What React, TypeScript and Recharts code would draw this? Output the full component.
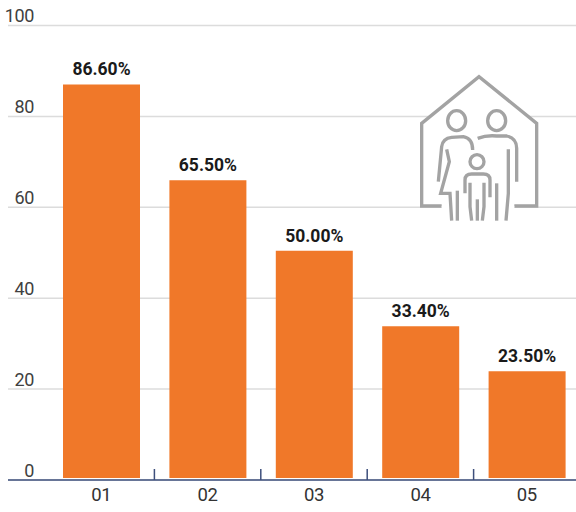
import { BarChart, Bar, XAxis, YAxis, CartesianGrid, LabelList, Rectangle } from "recharts";

const categories = ["01", "02", "03", "04", "05"];
const shares = [86.6, 65.5, 50.0, 33.4, 23.5];
const yTicks = [0, 20, 40, 60, 80, 100];

const data = categories.map((c, i) => ({ category: c, share: shares[i] }));

const FONT = "Roboto, sans-serif";
const BAR_LIFT = 2;

const BarShape = (props: any) => (
    <Rectangle x={props.x} y={props.y - BAR_LIFT} width={props.width} height={props.height} fill="#f07829" />
);

const ValueLabel = ({ x, y, width, value }: any) => (
    <text
        x={x + width / 2}
        y={y - 11}
        textAnchor="middle"
        fontFamily={FONT}
        fontSize={17.5}
        fontWeight={700}
        fill="#1a1a1a"
    >
        {Number(value).toFixed(2)}%
    </text>
);

const YTick = ({ y, payload }: any) => (
    <text
        x={34}
        y={y - 3.5}
        textAnchor="end"
        fontFamily={FONT}
        fontSize={18}
        letterSpacing={-0.4}
        fill="#404040"
    >
        {payload.value}
    </text>
);

const XTick = ({ x, y, payload, index }: any) => {
    const half = payload.offset ?? 53.1;
    return (
        <g>
            {index < categories.length - 1 && (
                <line x1={x + half} x2={x + half} y1={y - 11} y2={y} stroke="#3d4f7c" strokeWidth={1.5} />
            )}
            <text
                x={x}
                y={y + 21}
                textAnchor="middle"
                fontFamily={FONT}
                fontSize={18.5}
                letterSpacing={-0.4}
                fill="#333333"
            >
                {payload.value}
            </text>
        </g>
    );
};

const FamilyIcon = () => (
    <svg
        width={160}
        height={170}
        viewBox="0 0 480 510"
        style={{ position: "absolute", left: 400, top: 60 }}
        fill="none"
        stroke="#a3a3a3"
        strokeWidth={10}
    >
        <path d="M65 190L237 50L410 190V438H65Z" fill="#ffffff" stroke="none" />
        <path d="M125 438H65V190L237 50L410 190V438H343" />
        <path d="M125 438H343V490H125Z" fill="#ffffff" stroke="none" />
        <ellipse cx={170} cy={182} rx={27} ry={30} />
        <ellipse cx={290} cy={182} rx={27} ry={30} />
        <path d="M115 365L125 260Q128 235 155 232L190 230Q218 235 218 270" />
        <path d="M140 268L148 305L122 400H150L155 482" />
        <path d="M172 392V482" />
        <path d="M233 235Q260 225 290 228H320Q350 235 350 265V365" />
        <path d="M325 268V400L318 482" />
        <circle cx={231} cy={305} r={21} />
        <path d="M195 400V360Q195 342 215 342H250Q270 342 270 360V412" />
        <path d="M210 368V440L215 482" />
        <path d="M232 418V482" />
        <path d="M252 368V440L247 482" />
        <path d="M290 370V482" />
    </svg>
);

export default function App() {
    return (
        <div
            style={{
                position: "absolute",
                left: 0,
                top: 0,
                width: 576,
                height: 512,
                overflow: "hidden",
                background: "#ffffff",
            }}
        >
            <BarChart
                width={580}
                height={512}
                data={data}
                margin={{ top: 25.5, right: 0, bottom: 0, left: 7 }}
            >
                <CartesianGrid vertical={false} stroke="#dcdcdc" strokeWidth={1.5} />
                <XAxis
                    dataKey="category"
                    height={32}
                    padding={{ left: 40, right: 0 }}
                    interval={0}
                    tickSize={0}
                    tickMargin={0}
                    tick={<XTick />}
                    axisLine={{ stroke: "#3d4f7c", strokeWidth: 1.5 }}
                />
                <YAxis
                    width={1}
                    domain={[0, 100]}
                    ticks={yTicks}
                    interval={0}
                    axisLine={false}
                    tickLine={false}
                    tick={<YTick />}
                />
                <Bar dataKey="share" barSize={77} shape={<BarShape />} isAnimationActive={false}>
                    <LabelList dataKey="share" content={<ValueLabel />} />
                </Bar>
            </BarChart>
            <FamilyIcon />
        </div>
    );
}
